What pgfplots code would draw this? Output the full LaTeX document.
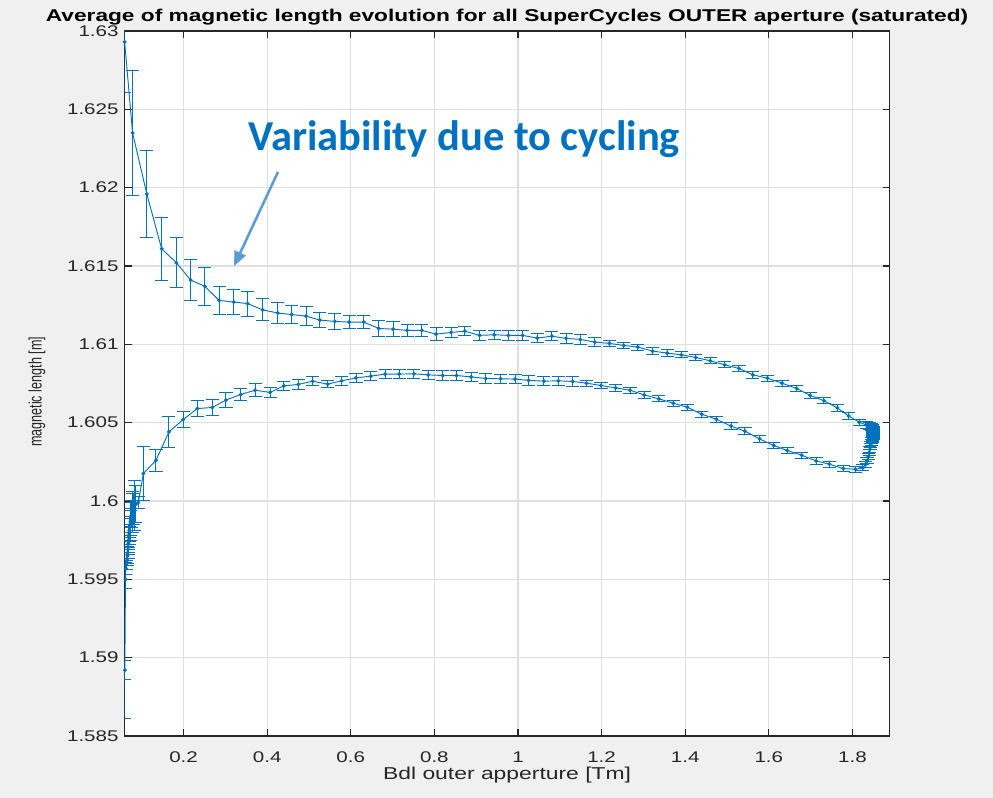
\documentclass[border=0pt]{standalone}
\usepackage{pgfplots}
\pgfplotsset{compat=1.18}
\usepackage{pgfplotstable}
\usepackage{fontspec}
\usetikzlibrary{arrows.meta}
\setmainfont{Liberation Sans}[FakeStretch=1.33]
\newfontfamily\ylabfont{Liberation Sans}[FakeStretch=0.7]
\newfontfamily\annfont{Carlito}

\definecolor{mblue}{RGB}{0,114,189}
\definecolor{annblue}{RGB}{0,112,192}
\definecolor{arrowblue}{RGB}{91,155,213}
\definecolor{bgcol}{RGB}{240,240,240}
\definecolor{gridgray}{RGB}{223,223,223}
\definecolor{axgray}{RGB}{38,38,38}

% mean magnetic length and spread per field step, in cycle order
\pgfplotstableread{
x y e
0.059 1.6293 0.0032
0.078 1.6235 0.0040
0.112 1.6196 0.0028
0.1475 1.6161 0.0020
0.183 1.6152 0.0016
0.217 1.6141 0.0013
0.251 1.6137 0.0012
0.285 1.6128 0.0009
0.320 1.6127 0.0008
0.353 1.6126 0.0008
0.389 1.6122 0.0007
0.425 1.6120 0.0007
0.4585 1.6119 0.0006
0.493 1.6118 0.0006
0.526 1.61155 0.0005
0.562 1.61146 0.0005
0.596 1.61142 0.0004
0.631 1.61142 0.0004
0.667 1.61101 0.0005
0.701 1.61097 0.0005
0.735 1.61089 0.0004
0.770 1.61089 0.0004
0.804 1.61065 0.0004
0.840 1.61076 0.0003
0.873 1.61084 0.0003
0.908 1.61057 0.0003
0.943 1.61061 0.0003
0.977 1.61057 0.0003
1.011 1.61057 0.0003
1.046 1.61040 0.0003
1.081 1.61052 0.0003
1.115 1.61038 0.0003
1.149 1.61031 0.0003
1.184 1.61014 0.0003
1.2185 1.61006 0.0002
1.253 1.60993 0.0002
1.287 1.60982 0.0002
1.322 1.60957 0.0002
1.357 1.60944 0.0002
1.391 1.60933 0.0002
1.425 1.60916 0.0002
1.460 1.60895 0.0002
1.4945 1.60869 0.0002
1.5287 1.60846 0.0002
1.562 1.60805 0.0002
1.5965 1.60784 0.0002
1.6316 1.60752 0.0002
1.6667 1.60718 0.0002
1.699 1.60674 0.0002
1.732 1.60640 0.0002
1.764 1.60594 0.0002
1.791 1.60543 0.0002
1.8165 1.60503 0.0002
1.833 1.60485 0.0002
1.842 1.60478 0.0002
1.846 1.60472 0.0002
1.848 1.60466 0.0002
1.849 1.60460 0.0002
1.850 1.60455 0.0002
1.851 1.60450 0.0002
1.851 1.60445 0.0002
1.851 1.60440 0.0002
1.851 1.60435 0.0002
1.851 1.60430 0.0002
1.851 1.60425 0.0002
1.850 1.60420 0.0002
1.850 1.60415 0.0002
1.849 1.60410 0.0002
1.849 1.60405 0.0002
1.848 1.60400 0.0002
1.847 1.60393 0.0002
1.846 1.60385 0.0002
1.845 1.60375 0.0002
1.844 1.60362 0.0002
1.843 1.60348 0.0002
1.842 1.60330 0.0002
1.840 1.60310 0.0002
1.838 1.60285 0.0002
1.835 1.60258 0.0002
1.831 1.60232 0.0002
1.825 1.60212 0.0002
1.807 1.60203 0.0002
1.778 1.60207 0.0002
1.745 1.60235 0.0002
1.713 1.60256 0.0002
1.679 1.60292 0.0002
1.6443 1.60322 0.0002
1.612 1.60354 0.0002
1.578 1.60396 0.0002
1.543 1.60446 0.0002
1.5096 1.60478 0.0002
1.4745 1.60522 0.0002
1.4395 1.60554 0.0002
1.405 1.60599 0.0002
1.3716 1.60624 0.0002
1.337 1.60652 0.0002
1.302 1.60677 0.0002
1.268 1.60707 0.0002
1.2337 1.60722 0.0002
1.1986 1.60737 0.0002
1.164 1.60752 0.0002
1.131 1.60763 0.0003
1.0965 1.60767 0.0003
1.062 1.60765 0.0003
1.0256 1.60770 0.0003
0.993 1.60778 0.0003
0.958 1.60780 0.0003
0.923 1.60782 0.0003
0.888 1.60792 0.0003
0.853 1.60801 0.0003
0.820 1.60801 0.0003
0.785 1.60805 0.0003
0.751 1.60812 0.0003
0.716 1.60810 0.0003
0.682 1.60810 0.0003
0.648 1.60797 0.0003
0.6125 1.60786 0.0003
0.578 1.60767 0.0003
0.5447 1.60746 0.0002
0.509 1.60765 0.0003
0.4745 1.60744 0.0003
0.440 1.60735 0.0003
0.407 1.60693 0.0003
0.371 1.60707 0.0004
0.3366 1.60680 0.0004
0.3014 1.60644 0.0005
0.2687 1.60597 0.0005
0.233 1.60590 0.0005
0.199 1.60520 0.0005
0.165 1.60441 0.0010
0.134 1.60260 0.0007
0.1037 1.60175 0.0017
0.0917 1.5999 0.0004
0.086 1.5998 0.0012
0.082 1.5997 0.0016
0.079 1.5995 0.0010
0.077 1.5993 0.0013
0.075 1.5991 0.0008
0.074 1.5989 0.0011
0.073 1.5987 0.0007
0.072 1.5985 0.0010
0.071 1.5983 0.0006
0.070 1.5981 0.0009
0.070 1.5979 0.0005
0.069 1.5977 0.0008
0.068 1.5975 0.0005
0.068 1.5973 0.0007
0.067 1.5971 0.0004
0.067 1.5969 0.0006
0.066 1.5967 0.0004
0.066 1.5965 0.0006
0.065 1.5963 0.0003
0.064 1.5961 0.0005
0.063 1.5959 0.0003
0.062 1.5957 0.0004
0.061 1.5950 0.0006
0.0595 1.5892 0.0006
}\cycledata

\begin{document}
\begin{tikzpicture}
\fill[bgcol] (0,0) rectangle (744.75pt,598.5pt);
\useasboundingbox (0,0) rectangle (744.75pt,598.5pt);
\begin{axis}[
  at={(93.45pt,46.5pt)}, anchor=south west,
  width=573.75pt, height=528.75pt, scale only axis,
  xmin=0.0589, xmax=1.889, ymin=1.585, ymax=1.63,
  xtick={0.2,0.4,0.6,0.8,1,1.2,1.4,1.6,1.8},
  ytick={1.585,1.59,1.595,1.6,1.605,1.61,1.615,1.62,1.625,1.63},
  scaled y ticks=false, scaled x ticks=false,
  /pgf/number format/fixed,
  /pgf/number format/precision=3,
  /pgf/number format/assume math mode=true,
  ticklabel style={font=\fontsize{11.6pt}{13pt}\selectfont, text=axgray},
  xticklabel style={yshift=-8.25pt},
  yticklabel style={xshift=-1pt},
  grid=major,
  major grid style={color=gridgray, line width=0.8pt},
  tick align=inside, tick pos=both,
  major tick length=5.25pt,
  tick style={color=axgray, line width=0.8pt},
  axis line style={color=axgray, line width=0.8pt},
  axis background/.style={fill=white},
  title={Average of magnetic length evolution for all SuperCycles OUTER aperture (saturated)},
  title style={font=\fontsize{12.8pt}{15pt}\selectfont\bfseries, at={(axis description cs:0.5,1)}, anchor=base, yshift=1.2pt},
  xlabel={Bdl outer apperture [Tm]},
  xlabel style={font=\fontsize{12.9pt}{15pt}\selectfont, text=axgray, at={(axis description cs:0.5,0)}, anchor=base, yshift=-33pt},
  ylabel={magnetic length [m]},
  ylabel style={font=\ylabfont\fontsize{13.5pt}{15pt}\selectfont, text=axgray, at={(axis description cs:-0.0975,0.488)}, anchor=south},
]
\addplot[color=mblue, line width=0.7pt, mark=*, mark size=1.1pt,
  error bars/.cd, y dir=both, y explicit,
  error bar style={line width=0.75pt, color=mblue},
  error mark options={rotate=90, mark size=4.9pt, line width=0.75pt, color=mblue}]
  table[x=x, y=y, y error=e] {\cycledata};
\addplot[color=mblue, draw=none, mark=none,
  error bars/.cd, y dir=minus, y explicit,
  error bar style={line width=0.75pt, color=mblue},
  error mark options={rotate=90, mark size=4.9pt, line width=0.75pt, color=mblue}]
  coordinates {(0.0595,1.5892) -= (0,0.0031)};
\node[anchor=base west, inner sep=0pt, font=\annfont\bfseries\fontsize{31.9pt}{36pt}\selectfont, text=annblue]
  at (axis cs:0.354,1.6224) {Variability due to cycling};
\draw[arrowblue, line width=1.9pt, -{Triangle[length=11pt,width=9pt]}]
  (axis cs:0.4258,1.6210) -- (axis cs:0.3206,1.61499);
\end{axis}
\end{tikzpicture}
\end{document}
